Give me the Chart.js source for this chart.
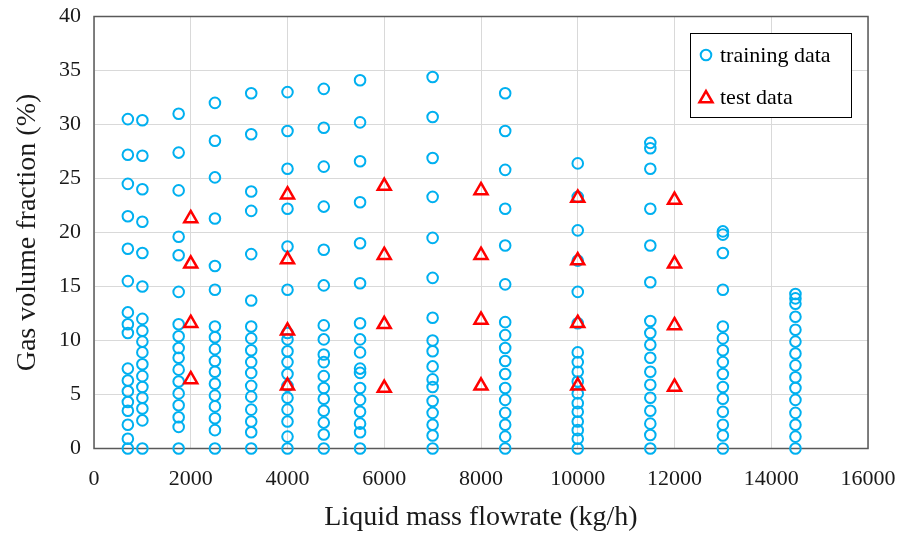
<!DOCTYPE html>
<html><head><meta charset="utf-8">
<script src="https://cdn.jsdelivr.net/npm/chart.js@4.4.0/dist/chart.umd.min.js"></script>
<style>html,body{margin:0;padding:0;background:#fff;}</style>
</head><body>
<canvas id="c" width="903" height="534"></canvas>
<script>
// ---- data ----
const trainFlows = [700, 1000, 1750, 2500, 3250, 4000, 4750, 5500, 7000, 8500, 10000, 11500, 13000, 14500];
const trainGvf = [
  [0, 0.9, 2.2, 3.5, 4.3, 5.3, 6.3, 7.4, 10.7, 11.5, 12.6, 15.5, 18.5, 21.5, 24.5, 27.2, 30.5],
  [0, 2.6, 3.7, 4.7, 5.7, 6.7, 7.8, 8.9, 9.9, 10.9, 12.0, 15.0, 18.1, 21.0, 24.0, 27.1, 30.4],
  [0, 2.0, 2.9, 4.0, 5.1, 6.2, 7.3, 8.4, 9.3, 10.4, 11.5, 14.5, 17.9, 19.6, 23.9, 27.4, 31.0],
  [0, 1.7, 2.8, 3.9, 4.9, 6.0, 7.1, 8.1, 9.2, 10.3, 11.3, 14.7, 16.9, 21.3, 25.1, 28.5, 32.0],
  [0, 1.5, 2.5, 3.6, 4.8, 5.8, 7.0, 8.0, 9.1, 10.2, 11.3, 13.7, 18.0, 22.0, 23.8, 29.1, 32.9],
  [0, 1.1, 2.5, 3.6, 4.7, 5.8, 6.9, 8.0, 9.0, 10.1, 10.7, 14.7, 18.7, 22.2, 25.9, 29.4, 33.0],
  [0, 1.3, 2.4, 3.5, 4.6, 5.6, 6.7, 8.0, 8.7, 10.1, 11.4, 15.1, 18.4, 22.4, 26.1, 29.7, 33.3],
  [0, 1.5, 2.3, 3.4, 4.5, 5.6, 7.0, 7.4, 8.9, 10.1, 11.6, 15.3, 19.0, 22.8, 26.6, 30.2, 34.1],
  [0, 1.2, 2.2, 3.3, 4.4, 5.7, 6.4, 7.6, 9.0, 10.0, 12.1, 15.8, 19.5, 23.3, 26.9, 30.7, 34.4],
  [0, 1.1, 2.2, 3.3, 4.5, 5.6, 6.9, 8.1, 9.3, 10.5, 11.7, 15.2, 18.8, 22.2, 25.8, 29.4, 32.9],
  [0, 0.9, 1.7, 2.5, 3.4, 4.2, 5.1, 6.2, 7.1, 8.0, 8.9, 11.6, 14.5, 17.4, 20.2, 23.3, 26.4],
  [0, 1.25, 2.3, 3.5, 4.7, 5.9, 7.1, 8.4, 9.6, 10.7, 11.8, 15.4, 18.8, 22.2, 25.9, 27.8, 28.3],
  [0, 1.2, 2.2, 3.4, 4.6, 5.7, 6.9, 8.0, 9.1, 10.2, 11.3, 14.7, 18.1, 19.8, 20.1],
  [0, 1.1, 2.2, 3.3, 4.5, 5.6, 6.6, 7.7, 8.8, 9.9, 11.0, 12.2, 13.4, 13.9, 14.3]
];
const testFlows = [2000, 4000, 6000, 8000, 10000, 12000];
const testGvf = [
  [6.4, 11.6, 17.1, 21.3],
  [5.8, 10.9, 17.5, 23.5],
  [5.6, 11.5, 17.9, 24.3],
  [5.8, 11.9, 17.9, 23.9],
  [5.8, 11.6, 17.4, 23.2],
  [5.7, 11.4, 17.1, 23.0]
];
const xTicks = [0, 2000, 4000, 6000, 8000, 10000, 12000, 14000, 16000];
const yTicks = [0, 5, 10, 15, 20, 25, 30, 35, 40];
const seriesNames = ['training data', 'test data'];
const xTitle = 'Liquid mass flowrate (kg/h)';
const yTitle = 'Gas volume fraction (%)';

// ---- build points ----
function toPoints(flows, groups) {
  const pts = [];
  flows.forEach((f, i) => groups[i].forEach(v => pts.push({x: f, y: v})));
  return pts;
}

const FONT = '"Liberation Serif", "Times New Roman", serif';
const BLUE = '#00b0f0';
const RED = '#ff0000';

const frame = {
  id: 'frame',
  beforeDatasetsDraw(chart) {
    const {ctx, chartArea: a} = chart;
    ctx.save();
    ctx.strokeStyle = '#595959';
    ctx.lineWidth = 1.5;
    ctx.strokeRect(a.left, a.top, a.right - a.left, a.bottom - a.top);
    ctx.restore();
  }
};

const legendBox = {
  id: 'legendBox',
  afterDraw(chart) {
    const {ctx} = chart;
    const x0 = 690, y0 = 33, w = 161, h = 84;
    ctx.save();
    ctx.fillStyle = '#fff';
    ctx.fillRect(x0, y0, w, h);
    ctx.strokeStyle = '#000';
    ctx.lineWidth = 1;
    ctx.strokeRect(x0 + 0.5, y0 + 0.5, w, h);
    const ds = chart.data.datasets;
    const rows = [55, 97];
    ds.forEach((d, i) => {
      const cy = rows[i];
      ctx.strokeStyle = d.borderColor;
      ctx.fillStyle = 'rgba(0,0,0,0)';
      ctx.lineWidth = d.borderWidth;
      Chart.helpers.drawPoint(ctx, {pointStyle: d.pointStyle, radius: d.pointRadius, borderWidth: d.borderWidth}, 706, cy + (d.pointStyle === 'triangle' ? 1.5 : 0));
      ctx.fillStyle = '#000';
      ctx.font = '22px ' + FONT;
      ctx.textBaseline = 'middle';
      ctx.textAlign = 'left';
      ctx.fillText(d.label, 720, cy + 1);
    });
    ctx.restore();
  }
};

function zeroPad(s) { s.paddingTop = 0; s.paddingBottom = 0; s.paddingLeft = 0; s.paddingRight = 0; }

new Chart(document.getElementById('c'), {
  type: 'scatter',
  data: {
    datasets: [
      {
        label: seriesNames[0],
        data: toPoints(trainFlows, trainGvf),
        pointStyle: 'circle',
        pointRadius: 5.3,
        pointHoverRadius: 5.3,
        borderWidth: 2,
        borderColor: BLUE,
        backgroundColor: 'rgba(0,0,0,0)',
        clip: false,
        order: 2
      },
      {
        label: seriesNames[1],
        data: toPoints(testFlows, testGvf),
        pointStyle: 'triangle',
        pointRadius: 7.5,
        pointHoverRadius: 7.5,
        borderWidth: 2.5,
        borderColor: RED,
        backgroundColor: 'rgba(0,0,0,0)',
        clip: false,
        order: 1
      }
    ]
  },
  options: {
    responsive: false,
    animation: false,
    events: [],
    layout: {padding: {top: 16.5, right: 35, left: 0, bottom: 0}},
    plugins: {legend: {display: false}, tooltip: {enabled: false}},
    scales: {
      x: {
        type: 'linear', min: 0, max: 16000,
        afterBuildTicks(s) { s.ticks = xTicks.map(v => ({value: v})); },
        afterFit(s) { s.height = 85.5; zeroPad(s); },
        ticks: {callback: v => String(v), font: {family: FONT, size: 22}, color: '#1a1a1a', padding: 18, maxRotation: 0},
        grid: {color: '#d9d9d9', lineWidth: 1, drawTicks: false},
        border: {display: false},
        title: {display: true, text: xTitle, font: {family: FONT, size: 28}, color: '#1a1a1a', padding: {top: 0, bottom: 0}}
      },
      y: {
        type: 'linear', min: 0, max: 40,
        afterBuildTicks(s) { s.ticks = yTicks.map(v => ({value: v})); },
        afterFit(s) { s.width = 94; zeroPad(s); },
        ticks: {callback: v => String(v), font: {family: FONT, size: 22}, color: '#1a1a1a', padding: 13},
        grid: {color: '#d9d9d9', lineWidth: 1, drawTicks: false},
        border: {display: false},
        title: {display: true, text: yTitle, font: {family: FONT, size: 28}, color: '#1a1a1a', padding: {top: 11, bottom: 0}}
      }
    }
  },
  plugins: [frame, legendBox]
});
</script>
</body></html>
